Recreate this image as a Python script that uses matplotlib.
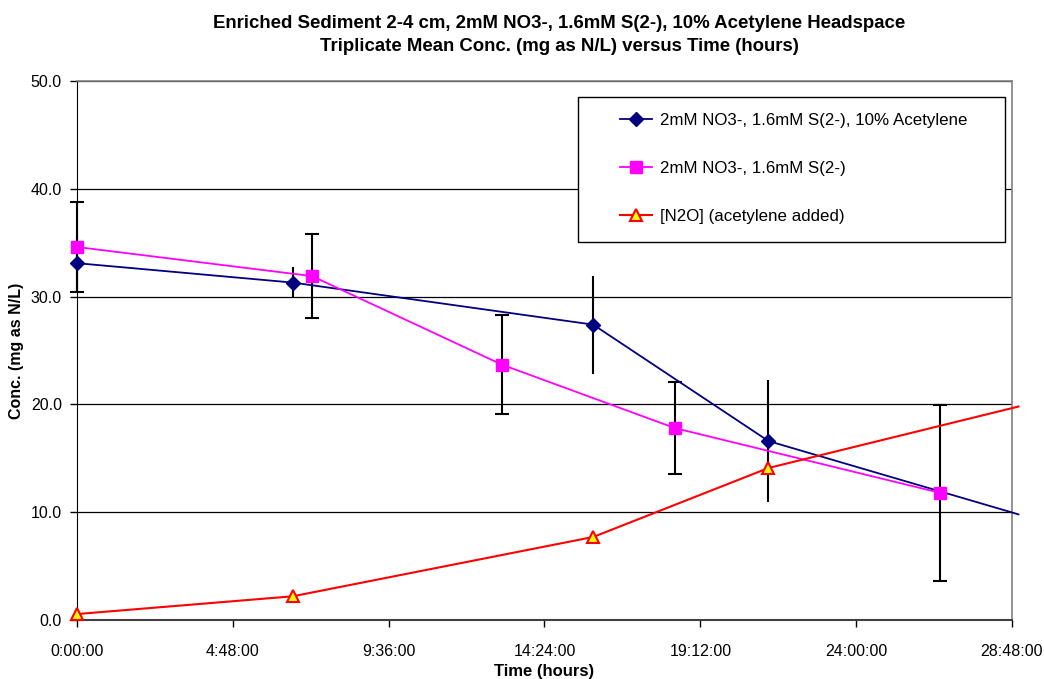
import matplotlib.pyplot as plt
from matplotlib.lines import Line2D
from matplotlib.patches import Rectangle
from matplotlib.ticker import FuncFormatter, MultipleLocator

plt.rcParams['font.family'] = ['Liberation Sans', 'DejaVu Sans']

# time in hours (last acetylene/N2O point lies just past the plot edge)
t_acet = [0.0, 6.65, 15.9, 21.3, 29.0]
conc_acet = [33.1, 31.3, 27.4, 16.6, 9.8]
err_acet = [2.5, 1.4, 4.55, 5.7, 0.0]

t_noacet = [0.0, 7.24, 13.08, 18.42, 26.58]
conc_noacet = [34.6, 31.9, 23.7, 17.8, 11.8]
err_noacet = [4.2, 3.9, 4.6, 4.3, 8.15]

t_n2o = [0.0, 6.65, 15.9, 21.3, 29.0]
conc_n2o = [0.55, 2.2, 7.7, 14.1, 19.8]

lab_acet = '2mM NO3-, 1.6mM S(2-), 10% Acetylene'
lab_noacet = '2mM NO3-, 1.6mM S(2-)'
lab_n2o = '[N2O] (acetylene added)'

fig = plt.figure(figsize=(10.44, 6.79), dpi=100)
ax = fig.add_axes([0.0738, 0.0869, 0.8955, 0.7938])

# error bars first so the markers sit on top
eb1 = ax.errorbar(t_acet[:4], conc_acet[:4], yerr=err_acet[:4], fmt='none',
                  ecolor='black', elinewidth=1.5, capsize=0, zorder=3)
eb2 = ax.errorbar(t_noacet, conc_noacet, yerr=err_noacet, fmt='none',
                  ecolor='black', elinewidth=1.5, capsize=5, capthick=1.5, zorder=3)
for eb in (eb1, eb2):
    for art in eb.lines[1] + eb.lines[2]:
        art.set_clip_on(False)

ax.plot(t_acet, conc_acet, color='#000080', lw=1.3, marker='D', ms=7,
        markevery=[0, 1, 2, 3], markerfacecolor='#000080', markeredgecolor='#000080',
        zorder=4, clip_on=False)
ax.plot(t_noacet, conc_noacet, color='#FF00FF', lw=1.3, marker='s', ms=9,
        markerfacecolor='#FF00FF', markeredgecolor='#FF00FF', zorder=4, clip_on=False)
ax.plot(t_n2o, conc_n2o, color='#FF0000', lw=1.5, marker='^', ms=9,
        markevery=[0, 1, 2, 3], markerfacecolor='#FFFF00', markeredgecolor='#FF0000',
        markeredgewidth=1.5, zorder=4, clip_on=False)

ax.set_xlim(0, 28.8)
ax.set_ylim(0, 50)
ax.xaxis.set_major_locator(MultipleLocator(4.8))
ax.yaxis.set_major_locator(MultipleLocator(10))


def hms(x, pos):
    h = int(x + 1e-6)
    m = int(round((x - h) * 60))
    return f'{h}:{m:02d}:00'


ax.xaxis.set_major_formatter(FuncFormatter(hms))
ax.yaxis.set_major_formatter(FuncFormatter(lambda v, p: f'{v:.1f}'))
ax.tick_params(labelsize=11.5, length=5, width=1, direction='out', pad=6)
ax.tick_params(axis='x', pad=12)

ax.grid(axis='y', color='black', lw=0.9)
ax.set_axisbelow(True)
for s in ['top', 'right']:
    ax.spines[s].set_color('#808080')
    ax.spines[s].set_linewidth(1.2)
ax.spines['left'].set_color('black')
ax.spines['bottom'].set_color('#404040')
ax.spines['bottom'].set_linewidth(1.5)

ax.set_xlabel('Time (hours)', fontsize=12, fontweight='bold', labelpad=4)
ax.set_ylabel('Conc. (mg as N/L)', fontsize=11.5, fontweight='bold', labelpad=5)

fig.text(0.536, 0.966, 'Enriched Sediment 2-4 cm, 2mM NO3-, 1.6mM S(2-), 10% Acetylene Headspace',
         ha='center', va='center', fontsize=13.4, fontweight='bold')
fig.text(0.536, 0.932, 'Triplicate Mean Conc. (mg as N/L) versus Time (hours)',
         ha='center', va='center', fontsize=13.4, fontweight='bold')

# legend box drawn separately so entries can sit indented inside it
fig.patches.append(Rectangle((578 / 1044, 1 - 242 / 679), 427 / 1044, 145 / 679,
                             transform=fig.transFigure, facecolor='white',
                             edgecolor='black', lw=1.0, zorder=5))
handles = [
    Line2D([], [], color='#000080', lw=1.3, marker='D', ms=7),
    Line2D([], [], color='#FF00FF', lw=1.3, marker='s', ms=9),
    Line2D([], [], color='#FF0000', lw=1.5, marker='^', ms=9,
           markerfacecolor='#FFFF00', markeredgecolor='#FF0000', markeredgewidth=1.5),
]
leg = fig.legend(handles, [lab_acet, lab_noacet, lab_n2o], loc='upper left',
                 bbox_to_anchor=(620 / 1044, 1 - 113 / 679), fontsize=12.2,
                 frameon=False, labelspacing=1.95, borderpad=0, handlelength=1.9,
                 handletextpad=0.45, borderaxespad=0)
leg.set_zorder(6)

fig.savefig('out.png', dpi=100)
